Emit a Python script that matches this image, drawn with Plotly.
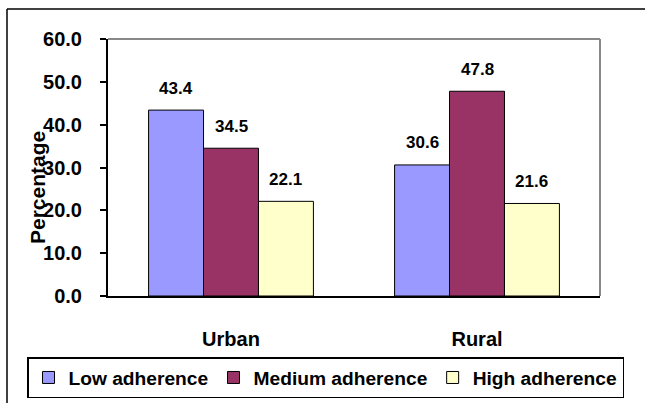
import plotly.graph_objects as go

# Adherence levels by residence (percent)
categories = ["Urban", "Rural"]
series_names = ["Low adherence", "Medium adherence", "High adherence"]
low_values = [43.4, 30.6]
medium_values = [34.5, 47.8]
high_values = [22.1, 21.6]
y_ticks = [0, 10, 20, 30, 40, 50, 60]
y_tick_labels = ["0.0", "10.0", "20.0", "30.0", "40.0", "50.0", "60.0"]

series_values = [low_values, medium_values, high_values]
series_colors = ["#9999FF", "#993366", "#FFFFCC"]

FONT = "Liberation Sans, Arial, sans-serif"
W, H = 645, 403
L, R, T, B = 108, 45, 39, 107
PW, PH = W - L - R, H - T - B


def px_x(p):
    return (p - L) / PW


def px_y(p):
    return 1 - (p - T) / PH


fig = go.Figure()
for name, vals, col in zip(series_names, series_values, series_colors):
    fig.add_trace(go.Bar(
        x=categories, y=vals, name=name,
        marker=dict(color=col, line=dict(color="black", width=1)),
    ))

# Value labels above each bar
bar_px = PW / 2 * (1 - 0.33) / 3
offsets = [-bar_px, 0, bar_px]
annotations = []
for vals, off in zip(series_values, offsets):
    for cat, v in zip(categories, vals):
        annotations.append(dict(
            x=cat, y=v, xref="x", yref="y", text=f"{v:.1f}", showarrow=False,
            xshift=off, yshift=22, yanchor="middle",
            font=dict(family=FONT, size=17, color="black", weight="bold"),
        ))

# Y axis title
annotations.append(dict(
    x=px_x(37), y=px_y(188), xref="paper", yref="paper", text="Percentage",
    showarrow=False, textangle=-90, xanchor="center", yanchor="middle",
    font=dict(family=FONT, size=21, color="black", weight="bold"),
))

shapes = [
    # grey top and right border of the plot area
    dict(type="line", xref="paper", yref="paper", x0=0, x1=1, y0=1, y1=1,
         line=dict(color="#888888", width=2)),
    dict(type="line", xref="paper", yref="paper", x0=1, x1=1, y0=0, y1=1,
         line=dict(color="#888888", width=2)),
    # outer chart frame (left and top edges)
    dict(type="line", xref="paper", yref="paper",
         x0=px_x(7), x1=px_x(7), y0=px_y(403), y1=px_y(9),
         line=dict(color="black", width=1.5), layer="below"),
    dict(type="line", xref="paper", yref="paper",
         x0=px_x(7), x1=px_x(700), y0=px_y(9), y1=px_y(9),
         line=dict(color="black", width=1.5), layer="below"),
]

fig.update_layout(
    width=W, height=H,
    margin=dict(l=L, r=R, t=T, b=B, pad=0, autoexpand=False),
    paper_bgcolor="white", plot_bgcolor="white",
    barmode="group", bargap=0.33, bargroupgap=0,
    font=dict(family=FONT, color="black"),
    annotations=annotations, shapes=shapes,
    legend=dict(
        orientation="h", x=px_x(27), y=px_y(357), xanchor="left", yanchor="top",
        bordercolor="black", borderwidth=1.5, bgcolor="white",
        font=dict(family=FONT, size=19.2, color="black", weight="bold"),
        itemclick=False, tracegroupgap=0,
    ),
    xaxis=dict(
        showline=True, linecolor="black", linewidth=2, ticks="",
        tickfont=dict(family=FONT, size=20, color="black", weight="bold"),
        ticklabelstandoff=24, showgrid=False,
    ),
    yaxis=dict(
        range=[0, 60], tickvals=y_ticks, ticktext=y_tick_labels,
        showline=True, linecolor="black", linewidth=2,
        ticks="outside", ticklen=6, tickcolor="black", tickwidth=2,
        tickfont=dict(family=FONT, size=20, color="black", weight="bold"),
        ticklabelstandoff=14, showgrid=False, zeroline=False,
    ),
)

fig.write_html("out.html")
